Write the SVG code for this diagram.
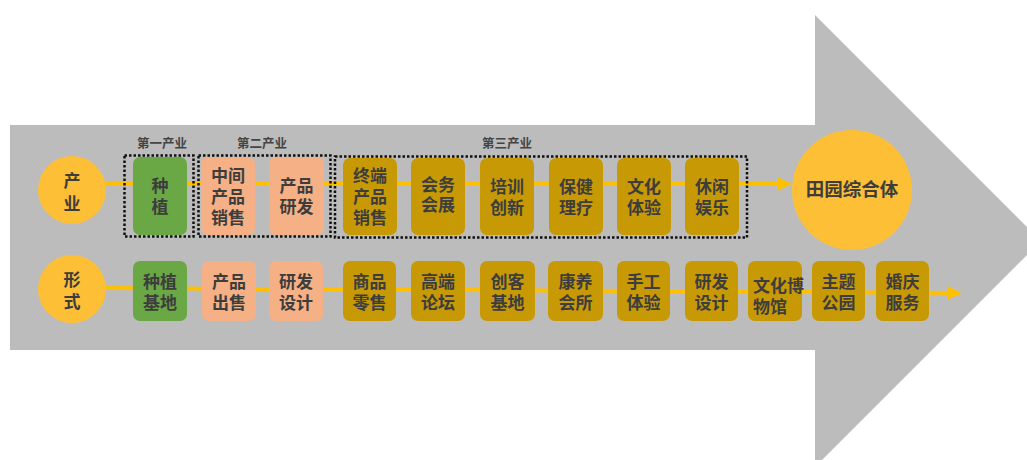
<svg xmlns="http://www.w3.org/2000/svg" width="1027" height="460" viewBox="0 0 1027 460">
<style>
text{font-family:"Noto Sans CJK SC","Noto Sans",sans-serif;font-weight:700;fill:#3d3d3d;text-anchor:middle;dominant-baseline:central}
.t{font-size:17px}
.lbl{font-size:12.5px;fill:#444}
.g{fill:#6aa846}
.o{fill:#f5b086}
.y{fill:#c79a05}
.c{fill:#fdbf36}
.grp{fill:none;stroke:#111;stroke-width:2.5;stroke-dasharray:2.5 2}
.ln{stroke:#ffc000;stroke-width:4;fill:none}
</style>
<defs>
<marker id="ah" viewBox="0 0 10 10" refX="9" refY="5" markerWidth="4" markerHeight="3.5" orient="auto" markerUnits="strokeWidth">
<path d="M0,0 L10,5 L0,10 Z" fill="#ffc000"/>
</marker>
</defs>
<rect width="1027" height="460" fill="#fff"/>
<path id="bigarrow" d="M10,125 H815 V15 L1041,241 L815,467 V350 H10 Z" fill="#bdbcbd"/>
<g id="connectors">
<line class="ln" x1="104" y1="184" x2="790" y2="184" marker-end="url(#ah)"/>
<line class="ln" x1="104" y1="288" x2="960" y2="293" marker-end="url(#ah)"/>
</g>
<g id="groups">
<rect class="grp" x="124.5" y="155.5" width="69" height="81"/>
<rect class="grp" x="198.5" y="155.5" width="132" height="81"/>
<rect class="grp" x="335" y="156.5" width="412" height="81"/>
<text class="lbl" x="162" y="142">第一产业</text>
<text class="lbl" x="262" y="142">第二产业</text>
<text class="lbl" x="507" y="142">第三产业</text>
</g>
<g id="n-chanye"><circle class="c" cx="72" cy="190" r="34"/><text class="t"><tspan x="72" y="179">产</tspan><tspan x="72" y="202">业</tspan></text></g>
<g id="n-xingshi"><circle class="c" cx="72" cy="289" r="34"/><text class="t"><tspan x="72" y="278">形</tspan><tspan x="72" y="300">式</tspan></text></g>
<g id="n-tianyuan"><circle class="c" cx="852" cy="190" r="60"/><text x="852" y="188" style="font-size:18.5px">田园综合体</text></g>

<g id="t1"><rect class="g" x="133" y="157" width="54" height="78" rx="7"/><text class="t"><tspan x="160" y="184">种</tspan><tspan x="160" y="205">植</tspan></text></g>
<g id="t2"><rect class="o" x="201" y="157" width="54" height="78" rx="7"/><text class="t"><tspan x="228" y="174">中间</tspan><tspan x="228" y="195">产品</tspan><tspan x="228" y="216">销售</tspan></text></g>
<g id="t3"><rect class="o" x="269" y="157" width="55" height="78" rx="7"/><text class="t"><tspan x="296.5" y="184">产品</tspan><tspan x="296.5" y="205">研发</tspan></text></g>
<g id="t4"><rect class="y" x="343" y="158" width="54" height="77" rx="7"/><text class="t"><tspan x="370" y="174">终端</tspan><tspan x="370" y="195">产品</tspan><tspan x="370" y="216">销售</tspan></text></g>
<g id="t5"><rect class="y" x="411" y="158" width="54" height="77" rx="7"/><text class="t"><tspan x="438" y="183">会务</tspan><tspan x="438" y="203">会展</tspan></text></g>
<g id="t6"><rect class="y" x="480" y="158" width="54" height="77" rx="7"/><text class="t"><tspan x="507" y="185">培训</tspan><tspan x="507" y="206">创新</tspan></text></g>
<g id="t7"><rect class="y" x="549" y="158" width="54" height="77" rx="7"/><text class="t"><tspan x="576" y="185">保健</tspan><tspan x="576" y="206">理疗</tspan></text></g>
<g id="t8"><rect class="y" x="617" y="158" width="54" height="77" rx="7"/><text class="t"><tspan x="644" y="185">文化</tspan><tspan x="644" y="206">体验</tspan></text></g>
<g id="t9"><rect class="y" x="685" y="158" width="54" height="77" rx="7"/><text class="t"><tspan x="712" y="185">休闲</tspan><tspan x="712" y="206">娱乐</tspan></text></g>

<g id="b1"><rect class="g" x="133" y="261" width="54" height="60" rx="7"/><text class="t"><tspan x="160" y="280">种植</tspan><tspan x="160" y="301">基地</tspan></text></g>
<g id="b2"><rect class="o" x="202" y="261" width="54" height="60" rx="7"/><text class="t"><tspan x="229" y="280">产品</tspan><tspan x="229" y="301">出售</tspan></text></g>
<g id="b3"><rect class="o" x="269" y="261" width="54" height="60" rx="7"/><text class="t"><tspan x="296" y="280">研发</tspan><tspan x="296" y="301">设计</tspan></text></g>
<g id="b4"><rect class="y" x="343" y="261" width="53" height="60" rx="7"/><text class="t"><tspan x="369.5" y="280">商品</tspan><tspan x="369.5" y="301">零售</tspan></text></g>
<g id="b5"><rect class="y" x="411" y="261" width="54" height="60" rx="7"/><text class="t"><tspan x="438" y="280">高端</tspan><tspan x="438" y="301">论坛</tspan></text></g>
<g id="b6"><rect class="y" x="480" y="261" width="55" height="60" rx="7"/><text class="t"><tspan x="507.5" y="280">创客</tspan><tspan x="507.5" y="301">基地</tspan></text></g>
<g id="b7"><rect class="y" x="548" y="261" width="55" height="60" rx="7"/><text class="t"><tspan x="575.5" y="280">康养</tspan><tspan x="575.5" y="301">会所</tspan></text></g>
<g id="b8"><rect class="y" x="617" y="261" width="53" height="60" rx="7"/><text class="t"><tspan x="643.5" y="280">手工</tspan><tspan x="643.5" y="301">体验</tspan></text></g>
<g id="b9"><rect class="y" x="685" y="261" width="53" height="60" rx="7"/><text class="t"><tspan x="711.5" y="280">研发</tspan><tspan x="711.5" y="301">设计</tspan></text></g>
<g id="b10"><rect class="y" x="748" y="261" width="54" height="60" rx="7"/><text class="t" style="text-anchor:start"><tspan x="753" y="284">文化博</tspan><tspan x="753" y="305">物馆</tspan></text></g>
<g id="b11"><rect class="y" x="812" y="261" width="53" height="60" rx="7"/><text class="t"><tspan x="838.5" y="280">主题</tspan><tspan x="838.5" y="301">公园</tspan></text></g>
<g id="b12"><rect class="y" x="876" y="261" width="53" height="60" rx="7"/><text class="t"><tspan x="902.5" y="280">婚庆</tspan><tspan x="902.5" y="301">服务</tspan></text></g>
</svg>
